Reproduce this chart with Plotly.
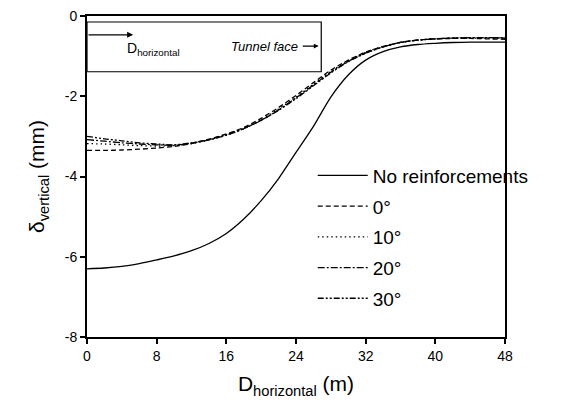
import plotly.graph_objects as go

x_m = [0, 2, 4, 6, 8, 10, 12, 14, 16, 18, 20, 22, 24, 26, 28, 30, 32, 34, 36, 38, 40, 42, 44, 46, 48]

no_reinf = [-6.30, -6.28, -6.24, -6.17, -6.08, -5.98, -5.85, -5.67, -5.42, -5.06, -4.60, -4.05, -3.40,
            -2.75, -2.02, -1.47, -1.10, -0.89, -0.77, -0.71, -0.68, -0.66, -0.65, -0.65, -0.65]
deg0 = [-3.35, -3.35, -3.34, -3.32, -3.29, -3.25, -3.18, -3.07, -2.94, -2.78, -2.55, -2.28, -1.98,
        -1.66, -1.35, -1.10, -0.90, -0.76, -0.66, -0.60, -0.57, -0.56, -0.56, -0.57, -0.58]
deg10 = [-3.18, -3.19, -3.21, -3.23, -3.24, -3.23, -3.18, -3.09, -2.97, -2.81, -2.59, -2.32, -2.02,
         -1.70, -1.38, -1.12, -0.91, -0.76, -0.66, -0.60, -0.57, -0.55, -0.55, -0.55, -0.56]
deg20 = [-3.08, -3.12, -3.16, -3.19, -3.21, -3.22, -3.17, -3.09, -2.97, -2.81, -2.60, -2.34, -2.04,
         -1.72, -1.40, -1.13, -0.92, -0.77, -0.66, -0.60, -0.57, -0.55, -0.54, -0.54, -0.55]
deg30 = [-3.00, -3.06, -3.11, -3.16, -3.19, -3.21, -3.16, -3.08, -2.96, -2.80, -2.60, -2.35, -2.06,
         -1.74, -1.42, -1.14, -0.93, -0.77, -0.66, -0.60, -0.57, -0.55, -0.54, -0.54, -0.54]

series = [
    ("No reinforcements", no_reinf, "solid"),
    ("0°", deg0, "5px,3px"),
    ("10°", deg10, "1.5px,3px"),
    ("20°", deg20, "7px,2px,2px,2px"),
    ("30°", deg30, "6px,2px,2px,2px,2px,2px"),
]

x_ticks = [0, 8, 16, 24, 32, 40, 48]
y_ticks = [-8, -6, -4, -2, 0]

fig = go.Figure()
for i, (name, ys, dash) in enumerate(series):
    fig.add_trace(go.Scatter(
        x=x_m, y=ys, mode="lines", name=name, legendgroup=str(i),
        line=dict(color="black", width=1.3, dash=dash, shape="spline", smoothing=0.8),
    ))

font = "Liberation Sans, Arial, sans-serif"

# info box in top-left
fig.add_shape(type="rect", x0=0, x1=26.9, y0=-1.39, y1=-0.15, xref="x", yref="y",
              line=dict(color="black", width=1.2), fillcolor="white", layer="below")
fig.add_annotation(x=5.3, y=-0.47, ax=0, ay=-0.47, xref="x", yref="y", axref="x", ayref="y",
                   showarrow=True, arrowhead=2, arrowsize=1, arrowwidth=1.2, arrowcolor="black", text="")
fig.add_annotation(x=4.4, y=-0.82, xref="x", yref="y", xanchor="left", yanchor="middle", showarrow=False,
                   text="D<sub>horizontal</sub>", font=dict(family=font, size=14, color="black"))
fig.add_annotation(x=24.5, y=-0.75, xref="x", yref="y", xanchor="right", yanchor="middle", showarrow=False,
                   text="<i>Tunnel face</i>", font=dict(family=font, size=13, color="black"))
fig.add_annotation(x=26.6, y=-0.75, ax=24.6, ay=-0.75, xref="x", yref="y", axref="x", ayref="y",
                   showarrow=True, arrowhead=2, arrowsize=0.8, arrowwidth=1.2, arrowcolor="black", text="")

fig.update_layout(
    width=576, height=407,
    margin=dict(l=79, r=79, t=8, b=78, autoexpand=False),
    paper_bgcolor="white", plot_bgcolor="white",
    font=dict(family=font, size=14, color="black"),
    showlegend=True,
    legend=dict(x=0.54, y=0.562, xanchor="left", yanchor="top", bgcolor="rgba(0,0,0,0)",
                font=dict(family=font, size=19, color="black"), tracegroupgap=3,
                itemwidth=50),
)
fig.update_xaxes(
    range=[0, 48], tickvals=x_ticks, ticktext=[str(v) for v in x_ticks],
    showgrid=False, zeroline=False, showline=True, linecolor="black", linewidth=2, mirror=True,
    ticks="outside", ticklen=5, tickwidth=2, tickcolor="black", automargin=False,
    ticklabeloverflow="allow",
    tickfont=dict(family=font, size=14),
    title=dict(text="D<sub>horizontal</sub> (m)", font=dict(family=font, size=21), standoff=14),
)
fig.update_yaxes(
    range=[-8, 0], tickvals=y_ticks, ticktext=[str(v) for v in y_ticks],
    showgrid=False, zeroline=False, showline=True, linecolor="black", linewidth=2, mirror=True,
    ticks="outside", ticklen=5, tickwidth=2, tickcolor="black", automargin=False,
    ticklabeloverflow="allow",
    tickfont=dict(family=font, size=14),
    title=dict(text="δ<sub>vertical</sub> (mm)", font=dict(family=font, size=21), standoff=14),
)

fig.write_html("out.html")
